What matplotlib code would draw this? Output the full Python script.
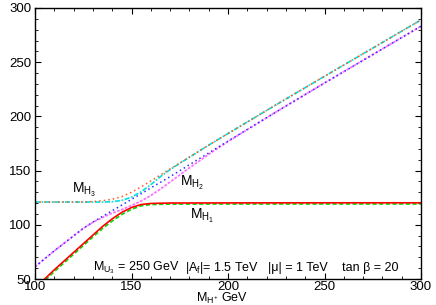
import matplotlib
matplotlib.use("Agg")
import matplotlib.pyplot as plt
from matplotlib.ticker import MultipleLocator

plt.rcParams["font.family"] = ["Liberation Sans", "DejaVu Sans"]
plt.rcParams["mathtext.fontset"] = "custom"
plt.rcParams["mathtext.rm"] = "Liberation Sans"
plt.rcParams["mathtext.it"] = "Liberation Sans"
plt.rcParams["mathtext.bf"] = "Liberation Sans:bold"

mhp_h1 = [100, 105, 110, 115, 120, 125, 130, 135, 140, 145, 150, 155, 160, 170, 200, 250, 300]
h1_a = [43.0, 50.0, 58.5, 66.5, 74.5, 82.5, 90.5, 98.5, 105.5, 111.5, 116.0, 118.7, 119.7, 120.1, 120.2, 120.3, 120.3]
h1_b = [41.5, 48.5, 56.8, 64.8, 72.8, 80.8, 88.8, 96.6, 103.5, 109.5, 114.3, 117.5, 118.7, 119.1, 119.2, 119.2, 119.2]

mhp_h2 = [100, 110, 120, 125, 130, 135, 140, 145, 150, 155, 160, 165, 170, 180, 190, 200, 225, 250, 275, 300]
h2_a = [61.3, 76.0, 89.8, 96.8, 102.5, 107.8, 113.0, 118.2, 123.5, 128.7, 134.0, 139.2, 144.4, 155.4, 166.3, 177.2, 204.2, 230.8, 257.0, 283.2]
h2_b = [61.3, 76.0, 89.8, 96.6, 102.3, 106.8, 110.8, 114.0, 117.8, 122.0, 127.0, 133.0, 139.5, 152.5, 165.0, 176.8, 204.2, 230.8, 257.0, 283.2]

mhp_h3 = [100, 120, 125, 130, 135, 140, 145, 150, 155, 160, 165, 170, 180, 190, 200, 225, 250, 275, 300]
h3_a = [121.0, 121.0, 121.1, 121.4, 122.2, 123.6, 126.0, 130.0, 135.0, 140.5, 146.0, 151.5, 162.5, 173.5, 184.2, 210.8, 237.0, 263.0, 289.0]
h3_b = [121.0, 121.0, 121.0, 121.0, 121.0, 121.3, 122.5, 125.5, 130.5, 137.0, 144.5, 151.0, 162.3, 173.5, 184.2, 210.8, 237.0, 263.0, 289.0]

fig = plt.figure(figsize=(4.36, 3.05), dpi=100)
ax = fig.add_axes([0.0803, 0.0852, 0.8853, 0.8886])

ax.plot(mhp_h1, h1_b, color="#00dd00", lw=1.2, dashes=(2.5, 1.5))
ax.plot(mhp_h1, h1_a, color="#ff0000", lw=1.2)
ax.plot(mhp_h2, h2_b, color="#ff70ff", lw=1.3, dashes=(1.5, 0.8))
ax.plot(mhp_h2, h2_a, color="#3030ff", lw=1.1, dashes=(1, 2))
ax.plot(mhp_h3, h3_b, color="#00e0e0", lw=1.2, dashes=(3, 1, 1, 1))
ax.plot(mhp_h3, h3_a, color="#ff5a1e", lw=1.1, dashes=(1, 2))

ax.set_xlim(100, 300)
ax.set_ylim(50, 300)
ax.xaxis.set_major_locator(MultipleLocator(50))
ax.xaxis.set_minor_locator(MultipleLocator(10))
ax.yaxis.set_major_locator(MultipleLocator(50))
ax.yaxis.set_minor_locator(MultipleLocator(10))
ax.tick_params(which="both", direction="in", top=True, right=True,
               labelsize=9.5, colors="black")
ax.tick_params(which="major", length=4, width=0.8, pad=2.5)
ax.tick_params(axis="x", which="major", pad=1.5)
ax.tick_params(which="minor", length=2, width=0.6)
for s in ax.spines.values():
    s.set_linewidth(1.0)

fs = 10
ax.text(119.2, 129.3, r"M$_{H_3}$", fontsize=fs)
ax.text(175.0, 135.8, r"M$_{H_2}$", fontsize=fs)
ax.text(180.3, 105.4, r"M$_{H_1}$", fontsize=fs)

fs2 = 9
ax.text(130.0, 57.5, r"M$_{U_3}$ = 250 GeV", fontsize=fs2)
ax.text(177.7, 57.5, r"|A$_f$|= 1.5 TeV", fontsize=fs2)
ax.text(220.7, 57.5, "|\u03bc| = 1 TeV", fontsize=fs2)
ax.text(259.1, 57.5, "tan \u03b2 = 20", fontsize=fs2)

fig.text(222 / 436, 3.5 / 305, r"M$_{H^{+}}$ GeV", fontsize=fs2,
         ha="center", va="baseline")

fig.savefig("out.png", dpi=100)
